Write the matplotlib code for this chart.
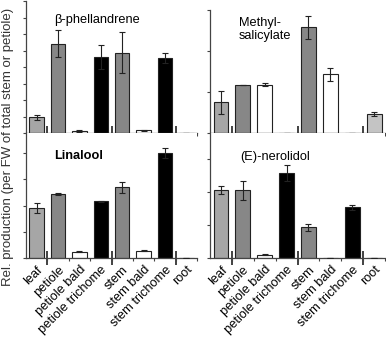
import matplotlib
matplotlib.use("Agg")
import matplotlib.pyplot as plt
import numpy as np

plt.rcParams["font.family"] = ["Liberation Sans", "DejaVu Sans"]

tissues = ["leaf", "petiole", "petiole bald", "petiole trichome",
           "stem", "stem bald", "stem trichome", "root"]
bar_colors = ["#a6a6a6", "#878787", "#ffffff", "#000000",
              "#878787", "#ffffff", "#000000", "#c4c4c4"]

phellandrene = [0.96, 5.40, 0.14, 4.60, 4.86, 0.16, 4.54, 0.02]
phellandrene_err = [0.15, 0.82, 0.06, 0.72, 1.25, 0.02, 0.28, 0.0]

methylsal = [0.75, 1.18, 1.18, 0.0, 2.58, 1.43, 0.0, 0.46]
methylsal_err = [0.28, 0.0, 0.03, 0.0, 0.28, 0.16, 0.0, 0.05]

linalool = [1.90, 2.44, 0.23, 2.17, 2.70, 0.28, 4.00, 0.01]
linalool_err = [0.18, 0.05, 0.02, 0.02, 0.21, 0.03, 0.20, 0.0]

nerolidol = [2.07, 2.05, 0.10, 2.57, 0.93, 0.0, 1.54, 0.01]
nerolidol_err = [0.12, 0.28, 0.01, 0.25, 0.11, 0.0, 0.07, 0.0]

group_sep = [0.5, 3.5, 6.5]

W, H = 386, 337


def make_ax(fig, x0, x1, ytop, ybot):
    return fig.add_axes([x0 / W, (H - ybot) / H, (x1 - x0) / W, (ybot - ytop) / H])


def draw_panel(ax, values, errors, ymax, nticks, show_labels):
    x = np.arange(len(tissues))
    ax.bar(x, values, width=0.68, color=bar_colors, edgecolor="#222222",
           linewidth=0.8, zorder=2)
    ax.errorbar(x, values, yerr=errors, fmt="none", ecolor="#222222",
                elinewidth=0.8, capsize=2.3, capthick=0.8, zorder=3)
    ax.set_xlim(-0.5, 7.5)
    ax.set_ylim(0, ymax)
    ax.set_yticks(np.arange(nticks))
    ax.set_yticklabels([])
    ax.tick_params(axis="y", direction="out", length=2.5, width=0.8, color="#444444")
    for s in ["top", "right"]:
        ax.spines[s].set_visible(False)
    for s in ["left", "bottom"]:
        ax.spines[s].set_color("#444444")
        ax.spines[s].set_linewidth(0.9)
    ax.set_xticks(x)
    ax.set_xticks(np.arange(len(tissues)) + 0.5, minor=True)
    ax.tick_params(axis="x", which="major", length=0)
    ax.tick_params(axis="x", which="minor", direction="out", length=2,
                   width=0.8, color="#444444")
    if show_labels:
        ax.set_xticklabels(tissues, rotation=45, ha="right", va="top",
                           rotation_mode="anchor", fontsize=9.2)
        ax.tick_params(axis="x", which="major", pad=4)
    else:
        ax.set_xticklabels([])
    sec = ax.secondary_xaxis("bottom")
    sec.set_xticks(group_sep)
    sec.set_xticklabels([])
    sec.tick_params(direction="inout", length=10, width=1.2, color="#222222")
    sec.spines["bottom"].set_visible(False)


fig = plt.figure(figsize=(W / 100, H / 100), dpi=100)

ax1 = make_ax(fig, 26, 197, 1, 133)
ax2 = make_ax(fig, 210, 385, 10, 133)
ax3 = make_ax(fig, 26, 197, 133, 258)
ax4 = make_ax(fig, 210, 385, 133, 258)

draw_panel(ax1, phellandrene, phellandrene_err, 8.0, 9, False)
draw_panel(ax2, methylsal, methylsal_err, 3.0, 4, False)
draw_panel(ax3, linalool, linalool_err, 4.77, 5, True)
draw_panel(ax4, nerolidol, nerolidol_err, 3.79, 4, True)

ax1.text(0.164, 0.855, "β-phellandrene", transform=ax1.transAxes,
         ha="left", va="center", fontsize=9.2)
ax2.text(0.166, 0.84, "Methyl-\nsalicylate", transform=ax2.transAxes,
         ha="left", va="center", fontsize=9.2, linespacing=1.15)
ax3.text(0.164, 0.816, "Linalool", transform=ax3.transAxes,
         ha="left", va="center", fontsize=9.2, fontweight="bold")
ax4.text(0.171, 0.808, "(E)-nerolidol", transform=ax4.transAxes,
         ha="left", va="center", fontsize=9.2)

fig.text(0.022, 0.565, "Rel. production (per FW of total stem or petiole)",
         rotation=90, ha="center", va="center", fontsize=9.5, color="#333333")

fig.savefig("out.png", dpi=100)
